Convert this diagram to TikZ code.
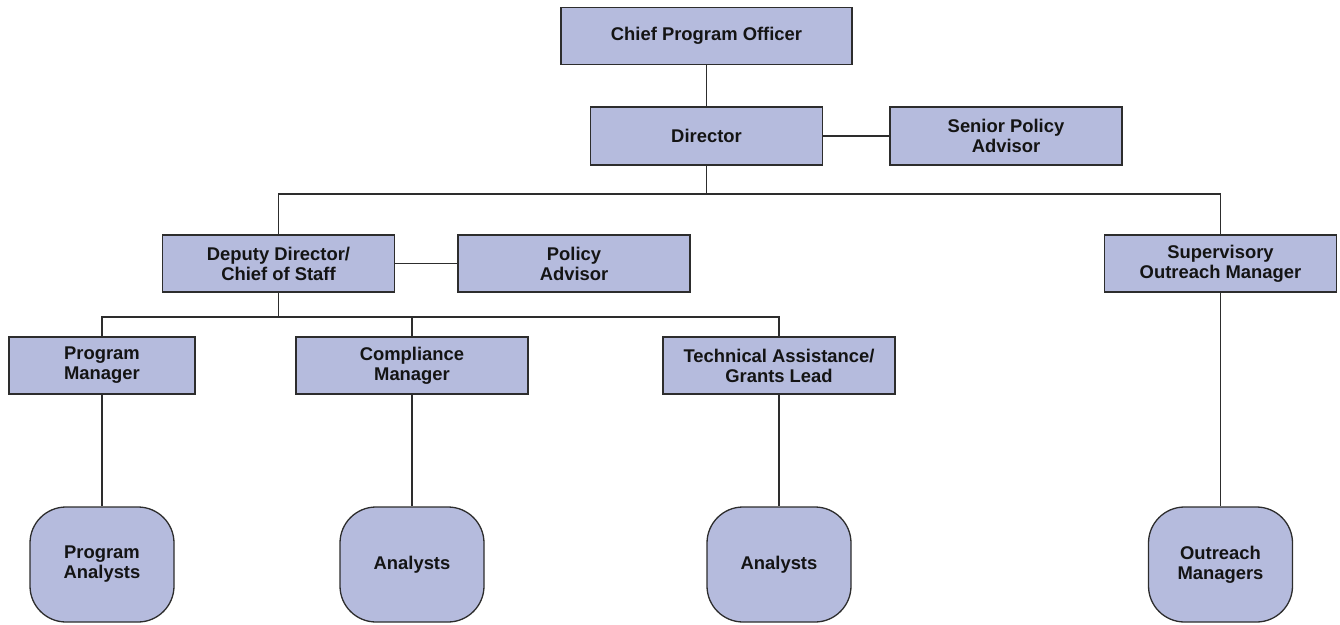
\documentclass[tikz,border=0pt]{standalone}
\usepackage{fontspec}
\setmainfont{Liberation Sans}
\definecolor{boxfill}{RGB}{181,187,221}
\definecolor{boxline}{RGB}{45,45,45}
\begin{document}
\begin{tikzpicture}[x=1pt,y=-1pt,
  every node/.style={font=\fontsize{18.4}{20}\selectfont\bfseries, text=black!92, align=center, inner sep=0pt},
  rolebox/.style={draw=boxline, line width=1.3pt, fill=boxfill, rectangle, minimum width=232pt, minimum height=57pt},
  groupbox/.style={draw=boxline, line width=1.3pt, fill=boxfill, rectangle, rounded corners=36pt, minimum width=144pt, minimum height=115pt},
  link/.style={draw=boxline, line width=1.2pt}]
\useasboundingbox (0,0) rectangle (1340,624);
\node[rolebox, minimum width=291pt] (cpo) at (706.5,36) {Chief Program Officer};
\node[rolebox, minimum height=58pt] (dir) at (706.5,136) {Director};
\node[rolebox, minimum height=58pt] (spa) at (1006,136) {Senior Policy\\Advisor};
\node[rolebox] (dep) at (278.5,263.5) {Deputy Director/\\Chief of Staff};
\node[rolebox] (pa) at (574,263.5) {Policy\\Advisor};
\node[rolebox] (som) at (1220.5,263.5) {Supervisory\\Outreach Manager};
\node[rolebox, minimum width=186pt] (pm) at (102,365.5) {Program\\Manager};
\node[rolebox] (cm) at (412,365.5) {Compliance\\Manager};
\node[rolebox] (tag) at (779,365.5) {Technical Assistance/\\Grants Lead};
\node[groupbox] (g1) at (102,564.5) {Program\\Analysts};
\node[groupbox] (g2) at (412,564.5) {Analysts};
\node[groupbox] (g3) at (779,564.5) {Analysts};
\node[groupbox] (g4) at (1220.5,564.5) {Outreach\\Managers};
\coordinate (j1) at (706.5,194);
\coordinate (j2) at (278.5,317);
\draw[link] (cpo) -- (dir);
\draw[link] (dir) -- (spa);
\draw[link] (dir) -- (j1);
\draw[link] (dep.north) |- (j1) -| (som.north);
\draw[link] (dep) -- (pa);
\draw[link] (dep) -- (j2);
\draw[link] (pm.north) |- (j2) -| (tag.north);
\draw[link] (cm.north) -- (cm.north |- j2);
\draw[link] (pm) -- (g1);
\draw[link] (cm) -- (g2);
\draw[link] (tag) -- (g3);
\draw[link] (som) -- (g4);
\end{tikzpicture}
\end{document}
